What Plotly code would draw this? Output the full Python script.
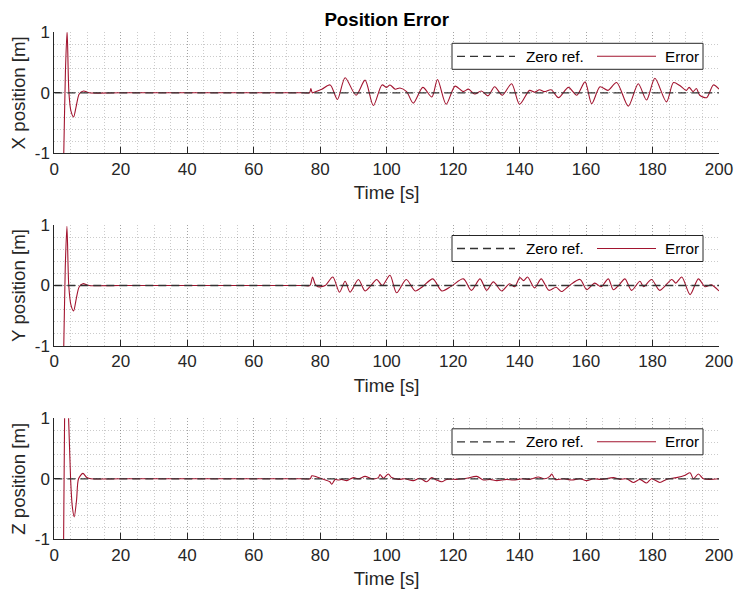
import plotly.graph_objects as go

# ---- data: position error per axis (time in s, error in m) ----
x_time = [2.0, 2.85, 3.35, 3.85, 4.4, 5.0, 5.8, 6.6, 7.5, 8.8,
          10.5, 20.0, 40.0, 60.0, 70.0, 75.0, 76.8, 77.2, 77.6, 78.2,
          80.5, 83.0, 85.2, 87.5, 90.8, 93.5, 96.0, 98.6, 100.0, 101.0,
          102.6, 104.0, 106.0, 108.0, 110.9, 113.6, 115.3, 117.9, 120.6, 123.0,
          124.6, 126.5, 128.5, 130.5, 132.5, 134.8, 137.6, 140.0, 143.0, 144.5,
          146.0, 147.5, 149.5, 151.7, 154.7, 157.2, 159.7, 161.7, 164.2, 166.6,
          169.2, 172.7, 175.7, 178.2, 180.7, 184.2, 186.3, 188.2, 190.2, 191.0,
          192.2, 193.2, 194.2, 196.3, 198.3, 200.0]
x_error = [-3.0, -1.0, 0.35, 1.02, 0.0, -0.30, -0.40, -0.22, -0.02, 0.03,
           0.0, 0.0, 0.0, 0.0, 0.0, 0.0, 0.0, 0.07, 0.0, 0.01,
           0.06, 0.13, -0.11, 0.25, -0.04, 0.21, -0.21, 0.13, 0.09, 0.13,
           0.06, 0.08, 0.02, -0.17, 0.09, -0.07, 0.22, -0.19, 0.11, 0.02,
           0.06, -0.02, 0.03, -0.05, 0.10, -0.04, 0.15, -0.19, 0.04, 0.01,
           0.05, 0.02, 0.05, -0.08, 0.09, -0.04, 0.18, -0.18, 0.10, 0.04,
           0.17, -0.22, 0.15, -0.12, 0.24, -0.15, 0.17, 0.12, 0.04, 0.09,
           0.02, 0.07, -0.04, -0.08, 0.13, 0.06]

y_time = [2.0, 2.85, 3.3, 3.8, 4.35, 5.0, 5.8, 6.6, 7.5, 8.6,
          10.5, 20.0, 40.0, 60.0, 70.0, 75.0, 76.9, 77.7, 78.5, 79.3,
          81.5, 83.8, 85.8, 87.5, 89.0, 91.5, 93.5, 95.3, 97.0, 98.7,
          101.0, 103.0, 105.9, 108.6, 110.8, 113.9, 116.6, 119.5, 123.1, 125.5,
          128.1, 130.1, 132.1, 134.6, 137.0, 138.5, 140.1, 141.2, 142.4, 144.5,
          146.5, 148.8, 151.0, 152.6, 155.0, 158.2, 160.2, 162.6, 164.5, 166.7,
          168.2, 169.8, 171.7, 173.7, 176.2, 177.3, 179.7, 182.2, 185.8, 187.0,
          188.8, 191.3, 193.8, 195.8, 197.7, 200.0]
y_error = [-3.0, -1.0, 0.30, 0.98, 0.0, -0.32, -0.42, -0.22, -0.02, 0.03,
           0.0, 0.0, 0.0, 0.0, 0.0, 0.0, 0.0, 0.14, 0.02, -0.02,
           0.0, 0.14, -0.11, 0.07, -0.11, 0.10, -0.09, 0.0, 0.10, 0.0,
           0.17, -0.12, 0.10, -0.09, -0.02, 0.11, -0.09, -0.01, 0.11, -0.08,
           0.11, -0.08, 0.06, -0.09, 0.03, -0.02, 0.13, 0.08, 0.14, -0.04,
           0.11, -0.08, -0.03, -0.10, 0.0, 0.10, -0.07, 0.04, -0.02, 0.11,
           -0.07, 0.0, 0.11, -0.08, 0.07, -0.02, 0.10, -0.08, 0.10, 0.04,
           0.14, -0.15, 0.11, -0.02, 0.01, -0.09]

z_time = [2.0, 2.8, 3.1, 3.6, 4.3, 4.9, 5.4, 6.0, 6.7, 7.3,
          8.6, 9.8, 11.0, 20.0, 40.0, 60.0, 70.0, 75.0, 77.0, 77.5,
          79.0, 80.5, 82.9, 83.5, 84.5, 85.5, 86.5, 88.0, 90.0, 91.5,
          93.5, 95.5, 97.5, 98.0, 99.0, 100.5, 101.5, 103.5, 105.5, 108.0,
          110.0, 112.0, 113.6, 115.0, 116.6, 118.1, 121.1, 124.1, 127.1, 129.1,
          131.1, 133.1, 136.1, 138.1, 141.1, 143.1, 145.6, 147.6, 149.1, 149.7,
          150.7, 153.2, 155.7, 158.2, 160.2, 162.2, 164.7, 168.2, 170.2, 172.2,
          174.2, 176.2, 178.2, 179.7, 182.2, 184.2, 187.2, 189.8, 191.3, 192.3,
          193.8, 195.3, 197.3, 200.0]
z_error = [-3.0, -1.0, 1.0, 1.8, 1.0, 0.0, -0.45, -0.63, -0.35, 0.0,
           0.09, 0.02, 0.0, 0.0, 0.0, 0.0, 0.0, 0.0, 0.0, 0.05,
           0.03, 0.0, -0.05, -0.09, -0.01, -0.02, -0.01, -0.03, 0.02, 0.0,
           0.04, 0.0, 0.02, 0.07, 0.01, 0.08, 0.02, -0.01, 0.0, -0.03,
           0.01, -0.05, 0.02, -0.02, -0.05, -0.01, -0.01, 0.01, 0.04, -0.02,
           -0.01, -0.03, -0.01, -0.02, 0.0, -0.01, 0.03, 0.0, 0.04, 0.08,
           -0.01, 0.0, -0.02, 0.0, -0.03, 0.0, -0.01, 0.02, -0.01, 0.0,
           -0.06, -0.01, -0.07, 0.0, -0.06, -0.01, 0.02, 0.06, 0.10, 0.0,
           0.08, 0.0, -0.01, 0.0]

ref_time = [0, 200]
ref_zero = [0, 0]

time_ticks = [0, 20, 40, 60, 80, 100, 120, 140, 160, 180, 200]
time_tick_text = [str(v) for v in time_ticks]
pos_ticks = [-1, 0, 1]
pos_tick_text = ["-1", "0", "1"]

panel_titles = ["X position [m]", "Y position [m]", "Z position [m]"]
legend_labels = ["Zero ref.", "Error"]
series_time = [x_time, y_time, z_time]
series_error = [x_error, y_error, z_error]

# ---- styling ----
W, H = 737, 592
FONT = "Liberation Sans, Arial, Helvetica, sans-serif"
INK = "#262626"
ERR_COLOR = "#A2142F"
REF_COLOR = "#333333"
REF_DASH = "8px,5px"
GRID = "rgba(38,38,38,0.24)"
GRID_DASH = "1px,2px"
LEFT, RIGHT = 54.3, 719.0
PANEL_TOPS = [32.3, 225.0, 418.3]
PANEL_H = 121.0
LEGEND_OFFSETS = [11.0, 10.5, 10.5]


def px_x(v):
    return v / W


def px_y(v):
    return 1 - v / H


fig = go.Figure()
shapes, annotations = [], []
layout = dict(
    width=W, height=H,
    margin=dict(l=0, r=0, t=0, b=0, autoexpand=False),
    paper_bgcolor="white", plot_bgcolor="white",
    font=dict(family=FONT, color=INK),
    title=dict(text="Position Error", x=px_x(386.7), xanchor="center",
               y=px_y(19), yanchor="middle", automargin=False,
               font=dict(family=FONT, size=18.7, color="#000", weight="bold")),
    showlegend=False,
)

for i in range(3):
    n = "" if i == 0 else str(i + 1)
    top = PANEL_TOPS[i]
    fig.add_trace(go.Scatter(
        x=series_time[i], y=series_error[i], mode="lines", name=legend_labels[1],
        line=dict(color=ERR_COLOR, width=1.1, shape="spline", smoothing=0.8),
        xaxis="x" + n, yaxis="y" + n))
    fig.add_trace(go.Scatter(
        x=ref_time, y=ref_zero, mode="lines", name=legend_labels[0],
        line=dict(color=REF_COLOR, width=1.3, dash=REF_DASH),
        xaxis="x" + n, yaxis="y" + n, hoverinfo="skip"))

    layout["xaxis" + n] = dict(
        domain=[px_x(LEFT), px_x(RIGHT)], anchor="y" + n, range=[0, 200],
        automargin=False,
        tickmode="array", tickvals=time_ticks, ticktext=time_tick_text,
        ticks="inside", ticklen=6, tickcolor=INK, tickwidth=1,
        showline=True, linecolor=INK, linewidth=1, mirror=False,
        showgrid=True, gridcolor=GRID, griddash=GRID_DASH, gridwidth=1,
        minor=dict(dtick=5, showgrid=True, gridcolor=GRID, griddash=GRID_DASH,
                   gridwidth=1, ticks=""),
        zeroline=False, tickfont=dict(size=17, color=INK),
        title=dict(text="Time [s]", font=dict(size=18.7, color=INK), standoff=8),
        fixedrange=True)
    layout["yaxis" + n] = dict(
        domain=[px_y(top + PANEL_H), px_y(top)], anchor="x" + n,
        range=[-1, 1], automargin=False,
        tickmode="array", tickvals=pos_ticks, ticktext=pos_tick_text,
        ticks="inside", ticklen=6, tickcolor=INK, tickwidth=1,
        showline=True, linecolor=INK, linewidth=1, mirror=False,
        showgrid=True, gridcolor=GRID, griddash=GRID_DASH, gridwidth=1,
        minor=dict(dtick=0.2, showgrid=True, gridcolor=GRID, griddash=GRID_DASH,
                   gridwidth=1, ticks=""),
        zeroline=False, tickfont=dict(size=17, color=INK),
        title=dict(text=panel_titles[i], font=dict(size=18.7, color=INK), standoff=4),
        fixedrange=True)

    # legend box with line samples and labels
    box_top = top + LEGEND_OFFSETS[i]
    box_bot = box_top + 26
    mid = (box_top + box_bot) / 2
    shapes.append(dict(type="rect", xref="paper", yref="paper",
                       x0=px_x(452), x1=px_x(703), y0=px_y(box_bot), y1=px_y(box_top),
                       fillcolor="white", line=dict(color=INK, width=1), layer="above"))
    shapes.append(dict(type="line", xref="paper", yref="paper",
                       x0=px_x(457), x1=px_x(515), y0=px_y(mid), y1=px_y(mid),
                       line=dict(color=REF_COLOR, width=1.3, dash=REF_DASH), layer="above"))
    shapes.append(dict(type="line", xref="paper", yref="paper",
                       x0=px_x(597), x1=px_x(656), y0=px_y(mid), y1=px_y(mid),
                       line=dict(color=ERR_COLOR, width=1.1), layer="above"))
    for label, xpos in zip(legend_labels, [523.5, 662.5]):
        annotations.append(dict(text=label, xref="paper", yref="paper",
                                x=px_x(xpos), y=px_y(mid), xanchor="left",
                                yanchor="middle", showarrow=False,
                                font=dict(family=FONT, size=15.3, color="#000")))

layout["shapes"] = shapes
layout["annotations"] = annotations
fig.update_layout(**layout)
fig.write_html("out.html")
